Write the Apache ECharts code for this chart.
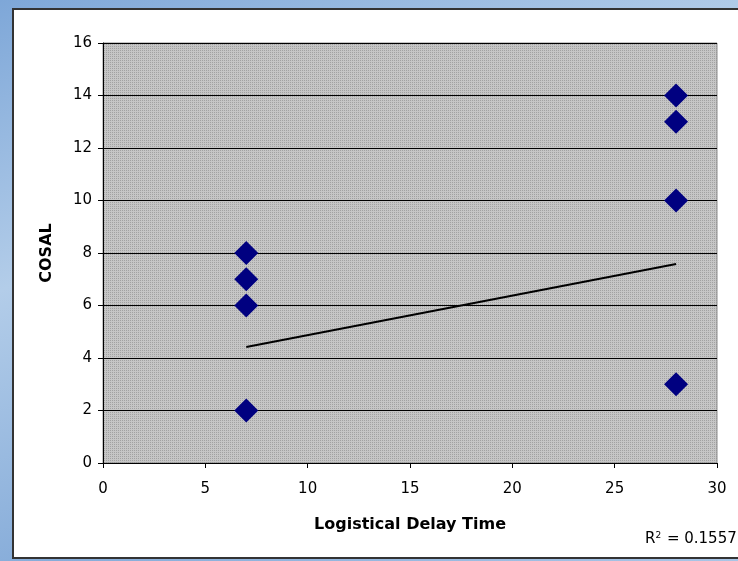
<!DOCTYPE html>
<html>
<head>
<meta charset="utf-8">
<script src="https://cdn.jsdelivr.net/npm/echarts@6/dist/echarts.min.js"></script>
<style>
  html, body { margin: 0; padding: 0; }
  body { width: 738px; height: 561px; overflow: hidden;
    background: linear-gradient(160deg, #7ea7d8 0%, #b3cde9 35%, #86acd9 70%, #a9c5e6 100%); }
  #chart { position: absolute; left: 0; top: 0; width: 738px; height: 561px; }
</style>
</head>
<body>
<div id="chart"></div>
<script>
// scatter points
const delayTime = [7, 7, 7, 7, 28, 28, 28, 28]
const cosal = [8, 7, 6, 2, 14, 13, 10, 3]
// linear trendline end points (as drawn)
const trendX = [7, 28]
const trendY = [4.42, 7.58]
const rSquared = '0.1557'

const FONT = 'DejaVu Sans, Liberation Sans, Arial, sans-serif'

// dotted grey fill like the old excel plot area
const pat = document.createElement('canvas')
pat.width = 2
pat.height = 2
const pctx = pat.getContext('2d')
pctx.fillStyle = '#c6c6c6'
pctx.fillRect(0, 0, 2, 2)
pctx.fillStyle = '#a2a2a2'
pctx.fillRect(0, 0, 1, 1)

const chart = echarts.init(document.getElementById('chart'), null, { renderer: 'canvas' })

chart.setOption({
  animation: false,
  backgroundColor: 'transparent',
  textStyle: { fontFamily: FONT },
  graphic: [
    {
      type: 'rect', z: -10, silent: true,
      shape: { x: 13, y: 9, width: 740, height: 549 },
      style: { fill: '#fff', stroke: '#333', lineWidth: 2 }
    },
    {
      type: 'text', left: 645, top: 531,
      style: {
        text: '{r|R}{s|2}{r| = ' + rSquared + '}',
        rich: {
          r: { fontSize: 15, fontFamily: FONT, fill: '#000' },
          s: { fontSize: 9, fontFamily: FONT, fill: '#000', verticalAlign: 'top', padding: [0, 1, 8, 0] }
        }
      }
    }
  ],
  grid: {
    left: 103, right: 21, top: 43, bottom: 98,
    show: true,
    backgroundColor: { image: pat, repeat: 'repeat' },
    borderColor: '#8a8a8a',
    borderWidth: 1
  },
  xAxis: {
    type: 'value', min: 0, max: 30, interval: 5,
    name: 'Logistical Delay Time',
    nameLocation: 'middle', nameGap: 54,
    nameTextStyle: { fontSize: 16, fontWeight: 'bold', color: '#000', fontFamily: FONT },
    axisLine: { show: true, lineStyle: { color: '#000', width: 1 } },
    axisTick: { show: true, length: 5, lineStyle: { color: '#000' } },
    axisLabel: { fontSize: 15, color: '#000', margin: 19, fontFamily: FONT },
    splitLine: { show: false }
  },
  yAxis: {
    type: 'value', min: 0, max: 16, interval: 2,
    name: 'COSAL',
    nameLocation: 'middle', nameGap: 48, nameRotate: 90,
    nameTextStyle: { fontSize: 16, fontWeight: 'bold', color: '#000', fontFamily: FONT },
    axisLine: { show: true, lineStyle: { color: '#000', width: 1 } },
    axisTick: { show: true, length: 5, lineStyle: { color: '#000' } },
    axisLabel: { fontSize: 15, color: '#000', margin: 11, fontFamily: FONT },
    splitLine: { show: true, lineStyle: { color: '#000', width: 1 } }
  },
  series: [
    {
      type: 'line',
      data: trendX.map((x, i) => [x, trendY[i]]),
      symbol: 'none',
      lineStyle: { color: '#000', width: 2 },
      z: 2
    },
    {
      type: 'scatter',
      data: delayTime.map((x, i) => [x, cosal[i]]),
      symbol: 'diamond',
      symbolSize: [24, 24],
      itemStyle: { color: '#000080', opacity: 1 },
      z: 3
    }
  ]
})
</script>
</body>
</html>
